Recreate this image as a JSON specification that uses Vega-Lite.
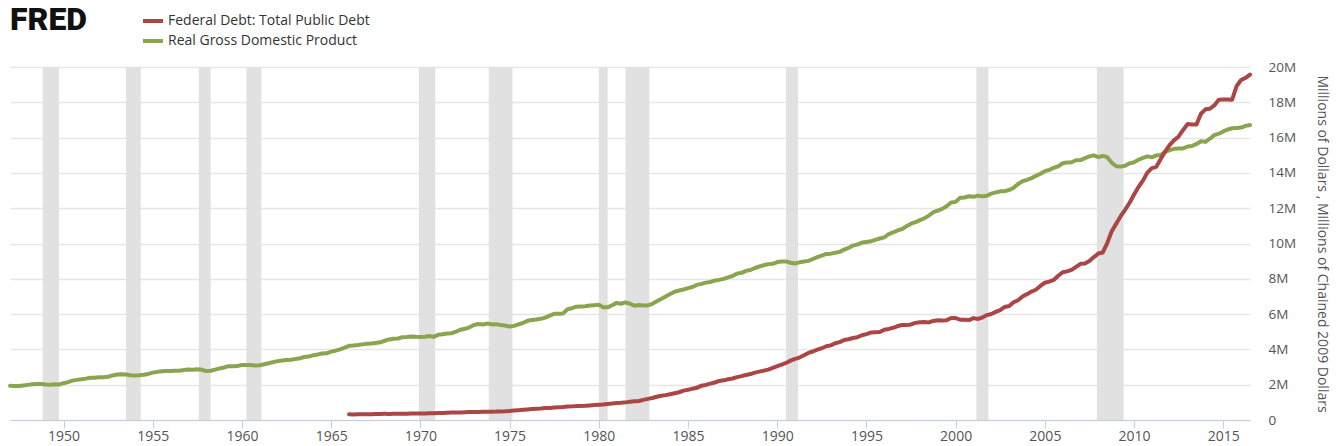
{
  "$schema": "https://vega.github.io/schema/vega-lite/v6.json",
  "width": 1240,
  "height": 353,
  "autosize": {"type": "none"},
  "padding": {"left": 10, "top": 67, "right": 88, "bottom": 26},
  "background": "white",
  "config": {
    "view": {"stroke": null},
    "font": "Open Sans"
  },
  "title": {
    "text": "FRED",
    "anchor": "start",
    "frame": "group",
    "offset": -28,
    "fontSize": 32,
    "fontWeight": 900,
    "font": "Roboto",
    "color": "#111111"
  },
  "datasets": {
    "rec": [
      {"start": "1948-11-01", "end": "1949-10-01"},
      {"start": "1953-07-01", "end": "1954-05-01"},
      {"start": "1957-08-01", "end": "1958-04-01"},
      {"start": "1960-04-01", "end": "1961-02-01"},
      {"start": "1969-12-01", "end": "1970-11-01"},
      {"start": "1973-11-01", "end": "1975-03-01"},
      {"start": "1980-01-01", "end": "1980-07-01"},
      {"start": "1981-07-01", "end": "1982-11-01"},
      {"start": "1990-07-01", "end": "1991-03-01"},
      {"start": "2001-03-01", "end": "2001-11-01"},
      {"start": "2007-12-01", "end": "2009-06-01"}
    ],
    "gdp": [
      {"q":"1947-01-01","v":1934500},{"q":"1947-04-01","v":1932300},{"q":"1947-07-01","v":1930300},{"q":"1947-10-01","v":1960700},
      {"q":"1948-01-01","v":1989500},{"q":"1948-04-01","v":2021900},{"q":"1948-07-01","v":2033200},{"q":"1948-10-01","v":2035300},
      {"q":"1949-01-01","v":2007500},{"q":"1949-04-01","v":2000800},{"q":"1949-07-01","v":2022800},{"q":"1949-10-01","v":2004700},
      {"q":"1950-01-01","v":2084600},{"q":"1950-04-01","v":2147600},{"q":"1950-07-01","v":2230400},{"q":"1950-10-01","v":2273400},
      {"q":"1951-01-01","v":2304500},{"q":"1951-04-01","v":2344500},{"q":"1951-07-01","v":2392800},{"q":"1951-10-01","v":2398100},
      {"q":"1952-01-01","v":2423500},{"q":"1952-04-01","v":2428500},{"q":"1952-07-01","v":2446100},{"q":"1952-10-01","v":2526400},
      {"q":"1953-01-01","v":2573400},{"q":"1953-04-01","v":2593500},{"q":"1953-07-01","v":2578900},{"q":"1953-10-01","v":2539800},
      {"q":"1954-01-01","v":2528000},{"q":"1954-04-01","v":2530700},{"q":"1954-07-01","v":2559400},{"q":"1954-10-01","v":2609300},
      {"q":"1955-01-01","v":2683800},{"q":"1955-04-01","v":2727500},{"q":"1955-07-01","v":2764100},{"q":"1955-10-01","v":2780800},
      {"q":"1956-01-01","v":2770000},{"q":"1956-04-01","v":2792900},{"q":"1956-07-01","v":2790600},{"q":"1956-10-01","v":2836200},
      {"q":"1957-01-01","v":2854500},{"q":"1957-04-01","v":2848200},{"q":"1957-07-01","v":2875900},{"q":"1957-10-01","v":2846400},
      {"q":"1958-01-01","v":2772700},{"q":"1958-04-01","v":2790900},{"q":"1958-07-01","v":2855500},{"q":"1958-10-01","v":2922300},
      {"q":"1959-01-01","v":2976600},{"q":"1959-04-01","v":3049000},{"q":"1959-07-01","v":3043100},{"q":"1959-10-01","v":3055100},
      {"q":"1960-01-01","v":3123200},{"q":"1960-04-01","v":3111300},{"q":"1960-07-01","v":3119100},{"q":"1960-10-01","v":3081300},
      {"q":"1961-01-01","v":3102300},{"q":"1961-04-01","v":3159900},{"q":"1961-07-01","v":3212600},{"q":"1961-10-01","v":3277700},
      {"q":"1962-01-01","v":3336800},{"q":"1962-04-01","v":3372700},{"q":"1962-07-01","v":3404800},{"q":"1962-10-01","v":3418000},
      {"q":"1963-01-01","v":3456100},{"q":"1963-04-01","v":3501100},{"q":"1963-07-01","v":3569500},{"q":"1963-10-01","v":3595000},
      {"q":"1964-01-01","v":3672700},{"q":"1964-04-01","v":3716400},{"q":"1964-07-01","v":3766900},{"q":"1964-10-01","v":3780200},
      {"q":"1965-01-01","v":3873500},{"q":"1965-04-01","v":3926400},{"q":"1965-07-01","v":4006200},{"q":"1965-10-01","v":4100600},
      {"q":"1966-01-01","v":4201900},{"q":"1966-04-01","v":4219100},{"q":"1966-07-01","v":4249200},{"q":"1966-10-01","v":4285600},
      {"q":"1967-01-01","v":4324900},{"q":"1967-04-01","v":4328700},{"q":"1967-07-01","v":4366100},{"q":"1967-10-01","v":4401200},
      {"q":"1968-01-01","v":4490600},{"q":"1968-04-01","v":4566400},{"q":"1968-07-01","v":4599300},{"q":"1968-10-01","v":4619800},
      {"q":"1969-01-01","v":4691600},{"q":"1969-04-01","v":4706700},{"q":"1969-07-01","v":4736100},{"q":"1969-10-01","v":4715500},
      {"q":"1970-01-01","v":4707100},{"q":"1970-04-01","v":4715400},{"q":"1970-07-01","v":4757200},{"q":"1970-10-01","v":4708300},
      {"q":"1971-01-01","v":4834300},{"q":"1971-04-01","v":4861900},{"q":"1971-07-01","v":4900000},{"q":"1971-10-01","v":4914300},
      {"q":"1972-01-01","v":5002400},{"q":"1972-04-01","v":5118300},{"q":"1972-07-01","v":5165400},{"q":"1972-10-01","v":5251200},
      {"q":"1973-01-01","v":5380500},{"q":"1973-04-01","v":5441500},{"q":"1973-07-01","v":5411900},{"q":"1973-10-01","v":5462400},
      {"q":"1974-01-01","v":5417000},{"q":"1974-04-01","v":5431300},{"q":"1974-07-01","v":5378700},{"q":"1974-10-01","v":5357200},
      {"q":"1975-01-01","v":5292400},{"q":"1975-04-01","v":5333200},{"q":"1975-07-01","v":5421400},{"q":"1975-10-01","v":5494400},
      {"q":"1976-01-01","v":5618500},{"q":"1976-04-01","v":5661000},{"q":"1976-07-01","v":5689800},{"q":"1976-10-01","v":5732500},
      {"q":"1977-01-01","v":5799200},{"q":"1977-04-01","v":5913000},{"q":"1977-07-01","v":6017600},{"q":"1977-10-01","v":6018200},
      {"q":"1978-01-01","v":6039200},{"q":"1978-04-01","v":6274000},{"q":"1978-07-01","v":6335300},{"q":"1978-10-01","v":6420300},
      {"q":"1979-01-01","v":6433000},{"q":"1979-04-01","v":6440800},{"q":"1979-07-01","v":6487100},{"q":"1979-10-01","v":6503900},
      {"q":"1980-01-01","v":6524900},{"q":"1980-04-01","v":6392600},{"q":"1980-07-01","v":6382900},{"q":"1980-10-01","v":6501200},
      {"q":"1981-01-01","v":6635700},{"q":"1981-04-01","v":6587300},{"q":"1981-07-01","v":6662900},{"q":"1981-10-01","v":6585100},
      {"q":"1982-01-01","v":6475000},{"q":"1982-04-01","v":6510200},{"q":"1982-07-01","v":6486800},{"q":"1982-10-01","v":6493100},
      {"q":"1983-01-01","v":6578200},{"q":"1983-04-01","v":6728300},{"q":"1983-07-01","v":6860000},{"q":"1983-10-01","v":7001500},
      {"q":"1984-01-01","v":7140600},{"q":"1984-04-01","v":7266000},{"q":"1984-07-01","v":7337500},{"q":"1984-10-01","v":7396000},
      {"q":"1985-01-01","v":7469500},{"q":"1985-04-01","v":7537900},{"q":"1985-07-01","v":7655200},{"q":"1985-10-01","v":7712600},
      {"q":"1986-01-01","v":7784100},{"q":"1986-04-01","v":7819800},{"q":"1986-07-01","v":7898600},{"q":"1986-10-01","v":7939500},
      {"q":"1987-01-01","v":7995000},{"q":"1987-04-01","v":8084700},{"q":"1987-07-01","v":8158000},{"q":"1987-10-01","v":8292700},
      {"q":"1988-01-01","v":8339300},{"q":"1988-04-01","v":8449500},{"q":"1988-07-01","v":8498300},{"q":"1988-10-01","v":8610900},
      {"q":"1989-01-01","v":8697700},{"q":"1989-04-01","v":8766100},{"q":"1989-07-01","v":8831500},{"q":"1989-10-01","v":8850200},
      {"q":"1990-01-01","v":8947100},{"q":"1990-04-01","v":8981700},{"q":"1990-07-01","v":8983900},{"q":"1990-10-01","v":8907400},
      {"q":"1991-01-01","v":8865600},{"q":"1991-04-01","v":8934400},{"q":"1991-07-01","v":8977300},{"q":"1991-10-01","v":9016400},
      {"q":"1992-01-01","v":9123000},{"q":"1992-04-01","v":9223500},{"q":"1992-07-01","v":9313200},{"q":"1992-10-01","v":9406500},
      {"q":"1993-01-01","v":9424100},{"q":"1993-04-01","v":9480100},{"q":"1993-07-01","v":9526300},{"q":"1993-10-01","v":9653500},
      {"q":"1994-01-01","v":9748200},{"q":"1994-04-01","v":9881400},{"q":"1994-07-01","v":9939700},{"q":"1994-10-01","v":10052500},
      {"q":"1995-01-01","v":10086900},{"q":"1995-04-01","v":10122100},{"q":"1995-07-01","v":10208800},{"q":"1995-10-01","v":10281200},
      {"q":"1996-01-01","v":10348700},{"q":"1996-04-01","v":10529400},{"q":"1996-07-01","v":10626800},{"q":"1996-10-01","v":10739100},
      {"q":"1997-01-01","v":10820900},{"q":"1997-04-01","v":10984200},{"q":"1997-07-01","v":11124000},{"q":"1997-10-01","v":11210300},
      {"q":"1998-01-01","v":11321200},{"q":"1998-04-01","v":11431000},{"q":"1998-07-01","v":11580600},{"q":"1998-10-01","v":11770700},
      {"q":"1999-01-01","v":11864700},{"q":"1999-04-01","v":11962500},{"q":"1999-07-01","v":12113100},{"q":"1999-10-01","v":12323300},
      {"q":"2000-01-01","v":12359100},{"q":"2000-04-01","v":12592500},{"q":"2000-07-01","v":12607700},{"q":"2000-10-01","v":12679300},
      {"q":"2001-01-01","v":12643300},{"q":"2001-04-01","v":12710300},{"q":"2001-07-01","v":12670100},{"q":"2001-10-01","v":12705300},
      {"q":"2002-01-01","v":12822300},{"q":"2002-04-01","v":12893000},{"q":"2002-07-01","v":12955800},{"q":"2002-10-01","v":12964000},
      {"q":"2003-01-01","v":13031200},{"q":"2003-04-01","v":13152100},{"q":"2003-07-01","v":13372400},{"q":"2003-10-01","v":13528700},
      {"q":"2004-01-01","v":13606500},{"q":"2004-04-01","v":13706200},{"q":"2004-07-01","v":13830800},{"q":"2004-10-01","v":13950400},
      {"q":"2005-01-01","v":14099100},{"q":"2005-04-01","v":14172700},{"q":"2005-07-01","v":14291800},{"q":"2005-10-01","v":14373400},
      {"q":"2006-01-01","v":14546100},{"q":"2006-04-01","v":14589600},{"q":"2006-07-01","v":14602600},{"q":"2006-10-01","v":14716900},
      {"q":"2007-01-01","v":14726000},{"q":"2007-04-01","v":14838700},{"q":"2007-07-01","v":14938500},{"q":"2007-10-01","v":14991800},
      {"q":"2008-01-01","v":14889500},{"q":"2008-04-01","v":14963400},{"q":"2008-07-01","v":14891600},{"q":"2008-10-01","v":14577000},
      {"q":"2009-01-01","v":14375000},{"q":"2009-04-01","v":14355600},{"q":"2009-07-01","v":14402500},{"q":"2009-10-01","v":14541900},
      {"q":"2010-01-01","v":14604800},{"q":"2010-04-01","v":14745900},{"q":"2010-07-01","v":14845500},{"q":"2010-10-01","v":14939000},
      {"q":"2011-01-01","v":14881300},{"q":"2011-04-01","v":14989600},{"q":"2011-07-01","v":15021100},{"q":"2011-10-01","v":15190300},
      {"q":"2012-01-01","v":15291000},{"q":"2012-04-01","v":15362400},{"q":"2012-07-01","v":15380800},{"q":"2012-10-01","v":15384300},
      {"q":"2013-01-01","v":15491900},{"q":"2013-04-01","v":15521600},{"q":"2013-07-01","v":15641300},{"q":"2013-10-01","v":15793900},
      {"q":"2014-01-01","v":15757600},{"q":"2014-04-01","v":15935800},{"q":"2014-07-01","v":16139500},{"q":"2014-10-01","v":16220200},
      {"q":"2015-01-01","v":16349000},{"q":"2015-04-01","v":16460900},{"q":"2015-07-01","v":16527600},{"q":"2015-10-01","v":16547600},
      {"q":"2016-01-01","v":16571600},{"q":"2016-04-01","v":16663500},{"q":"2016-07-01","v":16712000}
    ],
    "debt": [
      {"q":"1966-01-01","v":320999},{"q":"1966-04-01","v":316097},{"q":"1966-07-01","v":324748},{"q":"1966-10-01","v":329319},
      {"q":"1967-01-01","v":330947},{"q":"1967-04-01","v":322893},{"q":"1967-07-01","v":334435},{"q":"1967-10-01","v":344663},
      {"q":"1968-01-01","v":347578},{"q":"1968-04-01","v":345369},{"q":"1968-07-01","v":356317},{"q":"1968-10-01","v":358029},
      {"q":"1969-01-01","v":359531},{"q":"1969-04-01","v":353720},{"q":"1969-07-01","v":365762},{"q":"1969-10-01","v":368226},
      {"q":"1970-01-01","v":372007},{"q":"1970-04-01","v":370919},{"q":"1970-07-01","v":383428},{"q":"1970-10-01","v":389158},
      {"q":"1971-01-01","v":391672},{"q":"1971-04-01","v":398130},{"q":"1971-07-01","v":414952},{"q":"1971-10-01","v":424131},
      {"q":"1972-01-01","v":428000},{"q":"1972-04-01","v":427000},{"q":"1972-07-01","v":436000},{"q":"1972-10-01","v":449000},
      {"q":"1973-01-01","v":456000},{"q":"1973-04-01","v":458000},{"q":"1973-07-01","v":466000},{"q":"1973-10-01","v":469000},
      {"q":"1974-01-01","v":474000},{"q":"1974-04-01","v":475000},{"q":"1974-07-01","v":482000},{"q":"1974-10-01","v":492000},
      {"q":"1975-01-01","v":509000},{"q":"1975-04-01","v":533000},{"q":"1975-07-01","v":554000},{"q":"1975-10-01","v":576000},
      {"q":"1976-01-01","v":599000},{"q":"1976-04-01","v":620000},{"q":"1976-07-01","v":634000},{"q":"1976-10-01","v":653000},
      {"q":"1977-01-01","v":680000},{"q":"1977-04-01","v":685000},{"q":"1977-07-01","v":705000},{"q":"1977-10-01","v":719000},
      {"q":"1978-01-01","v":738000},{"q":"1978-04-01","v":764000},{"q":"1978-07-01","v":772000},{"q":"1978-10-01","v":789000},
      {"q":"1979-01-01","v":796000},{"q":"1979-04-01","v":805000},{"q":"1979-07-01","v":827000},{"q":"1979-10-01","v":845000},
      {"q":"1980-01-01","v":863000},{"q":"1980-04-01","v":878000},{"q":"1980-07-01","v":908000},{"q":"1980-10-01","v":930000},
      {"q":"1981-01-01","v":964000},{"q":"1981-04-01","v":971000},{"q":"1981-07-01","v":998000},{"q":"1981-10-01","v":1028000},
      {"q":"1982-01-01","v":1061000},{"q":"1982-04-01","v":1080000},{"q":"1982-07-01","v":1142000},{"q":"1982-10-01","v":1197000},
      {"q":"1983-01-01","v":1245000},{"q":"1983-04-01","v":1319000},{"q":"1983-07-01","v":1377000},{"q":"1983-10-01","v":1410000},
      {"q":"1984-01-01","v":1463000},{"q":"1984-04-01","v":1518000},{"q":"1984-07-01","v":1572000},{"q":"1984-10-01","v":1663000},
      {"q":"1985-01-01","v":1710000},{"q":"1985-04-01","v":1775000},{"q":"1985-07-01","v":1823000},{"q":"1985-10-01","v":1945000},
      {"q":"1986-01-01","v":1986000},{"q":"1986-04-01","v":2059000},{"q":"1986-07-01","v":2125000},{"q":"1986-10-01","v":2214000},
      {"q":"1987-01-01","v":2246000},{"q":"1987-04-01","v":2310000},{"q":"1987-07-01","v":2350000},{"q":"1987-10-01","v":2431000},
      {"q":"1988-01-01","v":2487000},{"q":"1988-04-01","v":2547000},{"q":"1988-07-01","v":2602000},{"q":"1988-10-01","v":2684000},
      {"q":"1989-01-01","v":2740000},{"q":"1989-04-01","v":2799000},{"q":"1989-07-01","v":2857000},{"q":"1989-10-01","v":2953000},
      {"q":"1990-01-01","v":3052000},{"q":"1990-04-01","v":3143000},{"q":"1990-07-01","v":3233000},{"q":"1990-10-01","v":3364000},
      {"q":"1991-01-01","v":3465000},{"q":"1991-04-01","v":3538000},{"q":"1991-07-01","v":3665000},{"q":"1991-10-01","v":3801000},
      {"q":"1992-01-01","v":3881000},{"q":"1992-04-01","v":3985000},{"q":"1992-07-01","v":4065000},{"q":"1992-10-01","v":4177000},
      {"q":"1993-01-01","v":4230000},{"q":"1993-04-01","v":4352000},{"q":"1993-07-01","v":4411000},{"q":"1993-10-01","v":4535000},
      {"q":"1994-01-01","v":4575000},{"q":"1994-04-01","v":4646000},{"q":"1994-07-01","v":4692000},{"q":"1994-10-01","v":4800000},
      {"q":"1995-01-01","v":4864000},{"q":"1995-04-01","v":4951000},{"q":"1995-07-01","v":4974000},{"q":"1995-10-01","v":4988000},
      {"q":"1996-01-01","v":5117000},{"q":"1996-04-01","v":5161000},{"q":"1996-07-01","v":5224000},{"q":"1996-10-01","v":5323000},
      {"q":"1997-01-01","v":5380000},{"q":"1997-04-01","v":5376000},{"q":"1997-07-01","v":5413000},{"q":"1997-10-01","v":5502000},
      {"q":"1998-01-01","v":5542000},{"q":"1998-04-01","v":5548000},{"q":"1998-07-01","v":5526000},{"q":"1998-10-01","v":5614000},
      {"q":"1999-01-01","v":5651000},{"q":"1999-04-01","v":5638000},{"q":"1999-07-01","v":5656000},{"q":"1999-10-01","v":5776000},
      {"q":"2000-01-01","v":5773000},{"q":"2000-04-01","v":5686000},{"q":"2000-07-01","v":5674000},{"q":"2000-10-01","v":5662000},
      {"q":"2001-01-01","v":5773000},{"q":"2001-04-01","v":5726000},{"q":"2001-07-01","v":5807000},{"q":"2001-10-01","v":5943000},
      {"q":"2002-01-01","v":6006000},{"q":"2002-04-01","v":6126000},{"q":"2002-07-01","v":6228000},{"q":"2002-10-01","v":6405000},
      {"q":"2003-01-01","v":6460000},{"q":"2003-04-01","v":6670000},{"q":"2003-07-01","v":6783000},{"q":"2003-10-01","v":6998000},
      {"q":"2004-01-01","v":7131000},{"q":"2004-04-01","v":7274000},{"q":"2004-07-01","v":7379000},{"q":"2004-10-01","v":7596000},
      {"q":"2005-01-01","v":7776000},{"q":"2005-04-01","v":7837000},{"q":"2005-07-01","v":7933000},{"q":"2005-10-01","v":8170000},
      {"q":"2006-01-01","v":8371000},{"q":"2006-04-01","v":8420000},{"q":"2006-07-01","v":8507000},{"q":"2006-10-01","v":8680000},
      {"q":"2007-01-01","v":8849000},{"q":"2007-04-01","v":8868000},{"q":"2007-07-01","v":9008000},{"q":"2007-10-01","v":9229000},
      {"q":"2008-01-01","v":9437000},{"q":"2008-04-01","v":9492000},{"q":"2008-07-01","v":10025000},{"q":"2008-10-01","v":10699000},
      {"q":"2009-01-01","v":11127000},{"q":"2009-04-01","v":11545000},{"q":"2009-07-01","v":11910000},{"q":"2009-10-01","v":12311000},
      {"q":"2010-01-01","v":12773000},{"q":"2010-04-01","v":13202000},{"q":"2010-07-01","v":13562000},{"q":"2010-10-01","v":14025000},
      {"q":"2011-01-01","v":14270000},{"q":"2011-04-01","v":14343000},{"q":"2011-07-01","v":14790000},{"q":"2011-10-01","v":15223000},
      {"q":"2012-01-01","v":15582000},{"q":"2012-04-01","v":15856000},{"q":"2012-07-01","v":16066000},{"q":"2012-10-01","v":16432000},
      {"q":"2013-01-01","v":16771000},{"q":"2013-04-01","v":16739000},{"q":"2013-07-01","v":16738000},{"q":"2013-10-01","v":17352000},
      {"q":"2014-01-01","v":17601000},{"q":"2014-04-01","v":17633000},{"q":"2014-07-01","v":17824000},{"q":"2014-10-01","v":18141000},
      {"q":"2015-01-01","v":18152000},{"q":"2015-04-01","v":18152000},{"q":"2015-07-01","v":18151000},{"q":"2015-10-01","v":18922000},
      {"q":"2016-01-01","v":19264000},{"q":"2016-04-01","v":19381000},{"q":"2016-07-01","v":19573000}
    ]
  },
  "layer": [
    {
      "data": {"name": "rec"},
      "mark": {"type": "rect", "color": "#e1e1e1"},
      "encoding": {
        "x": {
          "field": "start", "type": "temporal",
          "scale": {"type": "utc", "domain": [{"year": 1947, "month": 1, "date": 1, "utc": true}, {"year": 2016, "month": 7, "date": 1, "utc": true}]},
          "axis": {
            "title": null,
            "grid": false,
            "format": "%Y",
            "tickCount": {"interval": "year", "step": 5},
            "domainColor": "#c0d0e0",
            "tickColor": "#c0d0e0",
            "tickSize": 8,
            "labelFontSize": 14,
            "labelColor": "#555555",
            "labelPadding": 1,
            "labelFont": "Open Sans"
          }
        },
        "x2": {"field": "end"}
      }
    },
    {
      "data": {"name": "gdp"},
      "transform": [{"calculate": "'Real Gross Domestic Product'", "as": "series"}],
      "mark": {"type": "line", "strokeWidth": 4, "strokeJoin": "round", "strokeCap": "round"},
      "encoding": {
        "x": {"field": "q", "type": "temporal"},
        "y": {
          "field": "v", "type": "quantitative",
          "scale": {"domain": [0, 20000000], "nice": false},
          "axis": {
            "orient": "right",
            "title": "Millions of Dollars , Millions of Chained 2009 Dollars",
            "titleFontSize": 14,
            "titleFontWeight": "normal",
            "titleColor": "#555555",
            "titleFont": "Open Sans",
            "titlePadding": 19,
            "values": [0,2000000,4000000,6000000,8000000,10000000,12000000,14000000,16000000,18000000,20000000],
            "tickCount": 30,
            "labelOverlap": false,
            "labelExpr": "datum.value == 0 ? '0' : (datum.value / 1000000) + 'M'",
            "grid": true,
            "gridColor": "#e6e6e6",
            "gridWidth": 1.5,
            "domain": false,
            "ticks": false,
            "labelPadding": 18,
            "labelFontSize": 13.5,
            "labelColor": "#555555",
            "labelFont": "Open Sans"
          }
        },
        "color": {
          "field": "series", "type": "nominal",
          "scale": {"domain": ["Federal Debt: Total Public Debt", "Real Gross Domestic Product"], "range": ["#aa4643", "#89a54e"]},
          "legend": {
            "title": null,
            "orient": "none",
            "legendX": 131,
            "legendY": -58,
            "direction": "vertical",
            "symbolType": "stroke",
            "symbolStrokeWidth": 4,
            "symbolSize": 400,
            "labelFontSize": 14,
            "labelFont": "Open Sans",
            "labelColor": "#333333",
            "labelLimit": 400,
            "rowPadding": -2,
            "labelOffset": 3
          }
        }
      }
    },
    {
      "data": {"name": "debt"},
      "transform": [{"calculate": "'Federal Debt: Total Public Debt'", "as": "series"}],
      "mark": {"type": "line", "strokeWidth": 4, "strokeJoin": "round", "strokeCap": "round"},
      "encoding": {
        "x": {"field": "q", "type": "temporal"},
        "y": {
          "field": "v", "type": "quantitative",
          "axis": {
            "orient": "right",
            "title": "Millions of Dollars , Millions of Chained 2009 Dollars",
            "titleFontSize": 14,
            "titleFontWeight": "normal",
            "titleColor": "#555555",
            "titleFont": "Open Sans",
            "titlePadding": 19,
            "values": [0,2000000,4000000,6000000,8000000,10000000,12000000,14000000,16000000,18000000,20000000],
            "tickCount": 30,
            "labelOverlap": false,
            "labelExpr": "datum.value == 0 ? '0' : (datum.value / 1000000) + 'M'",
            "grid": true,
            "gridColor": "#e6e6e6",
            "gridWidth": 1.5,
            "domain": false,
            "ticks": false,
            "labelPadding": 18,
            "labelFontSize": 13.5,
            "labelColor": "#555555",
            "labelFont": "Open Sans"
          }
        },
        "color": {"field": "series", "type": "nominal"}
      }
    }
  ]
}
